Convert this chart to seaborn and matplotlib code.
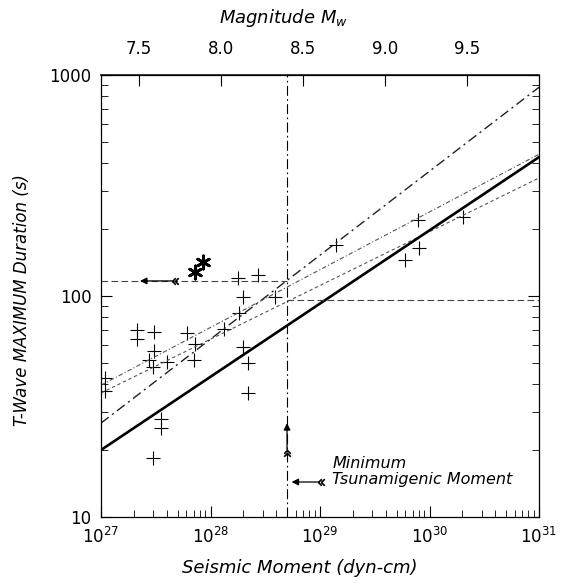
"""
T-wave maximum duration vs seismic moment (log-log) with a Mw top axis
"""

import numpy as np
import pandas as pd
import matplotlib
matplotlib.use("Agg")
import matplotlib.pyplot as plt
import seaborn as sns
from matplotlib.path import Path
from matplotlib.ticker import LogLocator, NullFormatter, FixedLocator, FormatStrFormatter

# ========================================
# data
# ========================================
# measured events (crosses)
moment = [1.09e27, 1.09e27, 2.13e27, 2.13e27, 3.05e27, 3.05e27, 2.74e27, 2.99e27,
          4.0e27, 3.53e27, 3.53e27, 2.99e27, 6.1e27, 7.2e27, 7.1e27, 1.33e28,
          1.78e28, 2.72e28, 1.98e28, 1.82e28, 1.98e28, 2.2e28, 2.2e28, 3.88e28,
          1.40e29, 7.85e29, 8.0e29, 5.97e29, 2.02e30]
duration = [42.6, 37.2, 70.1, 63.9, 68.7, 56.4, 51.3, 47.7,
            50.2, 27.8, 25.3, 18.5, 68.0, 60.7, 51.3, 71.0,
            120.6, 124.4, 98.9, 83.7, 58.7, 49.8, 36.4, 98.9,
            170, 221, 165, 146, 228]

# flagged events (asterisks)
star_moment = [8.55e27, 7.2e27]
star_duration = [142.6, 128.5]

# scaling lines, given at both ends of the moment range
line_moment = [1e27, 1e31]
solid_duration = [20.1, 425]
steep_duration = [26.6, 880]
upper_duration = [39.5, 438]
lower_duration = [36.4, 342]

# threshold
min_moment = 5e28
left_level = 117
right_level = 96

mw_ticks = [7.5, 8.0, 8.5, 9.0, 9.5]


def to_mw(m0):
    return np.log10(np.clip(m0, 1e-30, None)) / 1.5 - 10.73


def from_mw(mw):
    return 10 ** ((np.asarray(mw) + 10.73) * 1.5)


# chevron "feathers" for the arrow tails
def feather(direction):
    if direction == 'left':
        pts = [(0, 0), (1, 1), (0, 0), (1, -1), (0.9, 0), (1.9, 1), (0.9, 0), (1.9, -1)]
    else:
        pts = [(0, 0), (1, -1), (0, 0), (-1, -1), (0, -0.9), (1, -1.9), (0, -0.9), (-1, -1.9)]
    codes = [Path.MOVETO, Path.LINETO] * 4
    return Path(pts, codes)


sns.set_theme(style="ticks")
plt.rcParams['font.family'] = ['DejaVu Sans']
plt.rcParams['mathtext.fontset'] = 'dejavusans'
for key in ['text.color', 'axes.labelcolor', 'xtick.color', 'ytick.color']:
    plt.rcParams[key] = 'black'

fig = plt.figure(figsize=(5.67, 5.88), dpi=100)
ax = fig.add_axes([101 / 567, 1 - 517 / 588, 438 / 567, 442 / 588])
ax.set_xscale('log')
ax.set_yscale('log')

# scaling lines
lines = pd.DataFrame({
    'moment': line_moment * 4,
    'duration': solid_duration + steep_duration + upper_duration + lower_duration,
    'fit': ['solid'] * 2 + ['steep'] * 2 + ['upper'] * 2 + ['lower'] * 2,
})
styles = {
    'solid': dict(color='black', lw=1.9, ls='-'),
    'steep': dict(color='#222222', lw=1.0, ls=(0, (7, 3, 1.5, 3))),
    'upper': dict(color='#555555', lw=0.8, ls=(0, (4, 2, 1, 2))),
    'lower': dict(color='#555555', lw=0.8, ls=(0, (3, 2.5))),
}
for name, sub in lines.groupby('fit'):
    sns.lineplot(data=sub, x='moment', y='duration', ax=ax, legend=False,
                 color=styles[name]['color'], linewidth=styles[name]['lw'],
                 linestyle=styles[name]['ls'])

# threshold lines
ax.axvline(min_moment, color='black', lw=0.8, ls=(0, (9, 3, 1.5, 3)))
ax.hlines(left_level, line_moment[0], min_moment, color='#444444', lw=0.8, ls=(0, (6, 3)))
ax.hlines(right_level, min_moment, line_moment[1], color='#444444', lw=0.8, ls=(0, (6, 3)))

# events
pts = pd.DataFrame({'moment': moment, 'duration': duration})
sns.scatterplot(data=pts, x='moment', y='duration', ax=ax, marker='+', s=95,
                color='black', linewidth=0.8, legend=False)
stars = pd.DataFrame({'moment': star_moment, 'duration': star_duration})
sns.scatterplot(data=stars, x='moment', y='duration', ax=ax, marker=(6, 2, 0), s=90,
                color='black', linewidth=2.0, legend=False)

# arrows
arrow = dict(arrowstyle='-|>', color='black', lw=0.9, mutation_scale=10, shrinkA=0, shrinkB=0)
ax.annotate('', xy=(2.27e27, left_level), xytext=(4.45e27, left_level), arrowprops=arrow)
ax.plot(4.45e27, left_level, marker=feather('left'), ms=9, color='black', mew=1.2)
ax.annotate('', xy=(min_moment, 26.6), xytext=(min_moment, 20.1), arrowprops=arrow)
ax.plot(min_moment, 20.1, marker=feather('up'), ms=9, color='black', mew=1.2)
ax.annotate('', xy=(5.5e28, 14.4), xytext=(9.6e28, 14.4), arrowprops=arrow)
ax.plot(9.6e28, 14.4, marker=feather('left'), ms=9, color='black', mew=1.2)

ax.text(1.29e29, 16.1, 'Minimum\nTsunamigenic Moment', fontsize=11.5, fontstyle='italic',
        ha='left', va='center', linespacing=1.1)

# axes
ax.set_xlim(1e27, 1e31)
ax.set_ylim(10, 1000)
ax.set_xlabel('')
ax.set_ylabel('')
for s in ax.spines.values():
    s.set_linewidth(0.9)
    s.set_color('black')
ax.xaxis.set_major_locator(LogLocator(base=10, numticks=10))
ax.xaxis.set_minor_locator(LogLocator(base=10, subs=np.arange(2, 10), numticks=20))
ax.xaxis.set_minor_formatter(NullFormatter())
ax.tick_params(axis='both', which='major', direction='in', length=8, width=0.8,
               labelsize=12, top=False, right=True, pad=7, colors='black')
ax.tick_params(axis='both', which='minor', direction='in', length=5, width=0.6,
               top=False, right=True)
ax.yaxis.set_major_formatter(FormatStrFormatter('%d'))
ax.yaxis.set_minor_formatter(NullFormatter())

# magnitude axis on top
sec = ax.secondary_xaxis('top', functions=(to_mw, from_mw))
sec.xaxis.set_major_locator(FixedLocator(mw_ticks))
sec.xaxis.set_minor_locator(FixedLocator([]))
sec.xaxis.set_major_formatter(FormatStrFormatter('%.1f'))
sec.tick_params(direction='in', length=8, width=0.8, labelsize=12, pad=12, colors='black')

fig.text(283 / 567, 1 - 18 / 588, r'Magnitude $M_w$', fontsize=13, fontstyle='italic',
         ha='center', va='center')
fig.text(300 / 567, 1 - 568 / 588, 'Seismic Moment (dyn-cm)', fontsize=13, fontstyle='italic',
         ha='center', va='center')
fig.text(22 / 567, 1 - 300 / 588, 'T-Wave MAXIMUM Duration (s)', fontsize=12, fontstyle='italic',
         ha='center', va='center', rotation=90)

plt.savefig('out.png', dpi=100)
plt.close()
